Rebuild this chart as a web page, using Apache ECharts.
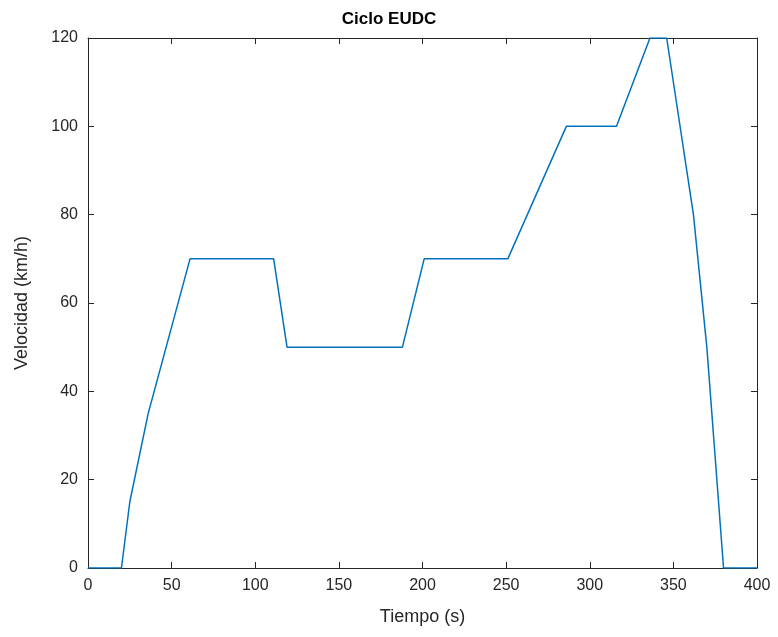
<!DOCTYPE html>
<html>
<head>
<meta charset="utf-8">
<script src="https://cdn.jsdelivr.net/npm/echarts@6/dist/echarts.min.js"></script>
<style>
  html, body { margin: 0; padding: 0; background: #fff; }
  #chart { width: 778px; height: 637px; }
</style>
</head>
<body>
<div id="chart"></div>
<script>
// EUDC cycle breakpoints
const tiempo = [0, 20, 25, 36, 61, 111, 119, 188, 201, 251, 286, 316, 336, 346, 362, 370, 380, 400]
const velocidad = [0, 0, 15, 35, 70, 70, 50, 50, 70, 70, 100, 100, 120, 120, 80, 50, 0, 0]
const xTicks = [0, 50, 100, 150, 200, 250, 300, 350, 400]
const yTicks = [0, 20, 40, 60, 80, 100, 120]

const points = tiempo.map((t, i) => [t, velocidad[i]])
const axisColor = '#262626'
const font = '"Liberation Sans", Arial, Helvetica, sans-serif'

const boxAxis = {
  axisLine: { show: true, onZero: false, lineStyle: { color: axisColor, width: 1 } },
  axisTick: { show: true, inside: true, length: 6, lineStyle: { color: axisColor } },
  splitLine: { show: false },
}

const option = {
  animation: false,
  textStyle: { fontFamily: font },
  title: {
    text: 'Ciclo EUDC',
    left: 'center',
    top: 6,
    textStyle: { fontSize: 17, fontWeight: 'bold', color: '#000', fontFamily: font },
  },
  grid: { left: 88, right: 21, top: 38, bottom: 69 },
  xAxis: [
    {
      type: 'value',
      min: xTicks[0],
      max: xTicks[xTicks.length - 1],
      interval: 50,
      name: 'Tiempo (s)',
      nameLocation: 'middle',
      nameGap: 40,
      nameTextStyle: { fontSize: 18, color: '#262626' },
      axisLabel: { fontSize: 16, color: '#262626', margin: 10 },
      ...boxAxis,
    },
    {
      type: 'value',
      position: 'top',
      min: xTicks[0],
      max: xTicks[xTicks.length - 1],
      interval: 50,
      axisLabel: { show: false },
      ...boxAxis,
    },
  ],
  yAxis: [
    {
      type: 'value',
      min: yTicks[0],
      max: yTicks[yTicks.length - 1],
      interval: 20,
      name: 'Velocidad (km/h)',
      nameLocation: 'middle',
      nameGap: 57,
      nameTextStyle: { fontSize: 18, color: '#262626' },
      axisLabel: { fontSize: 16, color: '#262626', margin: 10 },
      ...boxAxis,
    },
    {
      type: 'value',
      position: 'right',
      min: yTicks[0],
      max: yTicks[yTicks.length - 1],
      interval: 20,
      axisLabel: { show: false },
      ...boxAxis,
    },
  ],
  series: [
    {
      type: 'line',
      data: points,
      showSymbol: false,
      lineStyle: { color: '#0072BD', width: 1.5 },
      itemStyle: { color: '#0072BD' },
    },
  ],
}

const chart = echarts.init(document.getElementById('chart'))
chart.setOption(option)
</script>
</body>
</html>
